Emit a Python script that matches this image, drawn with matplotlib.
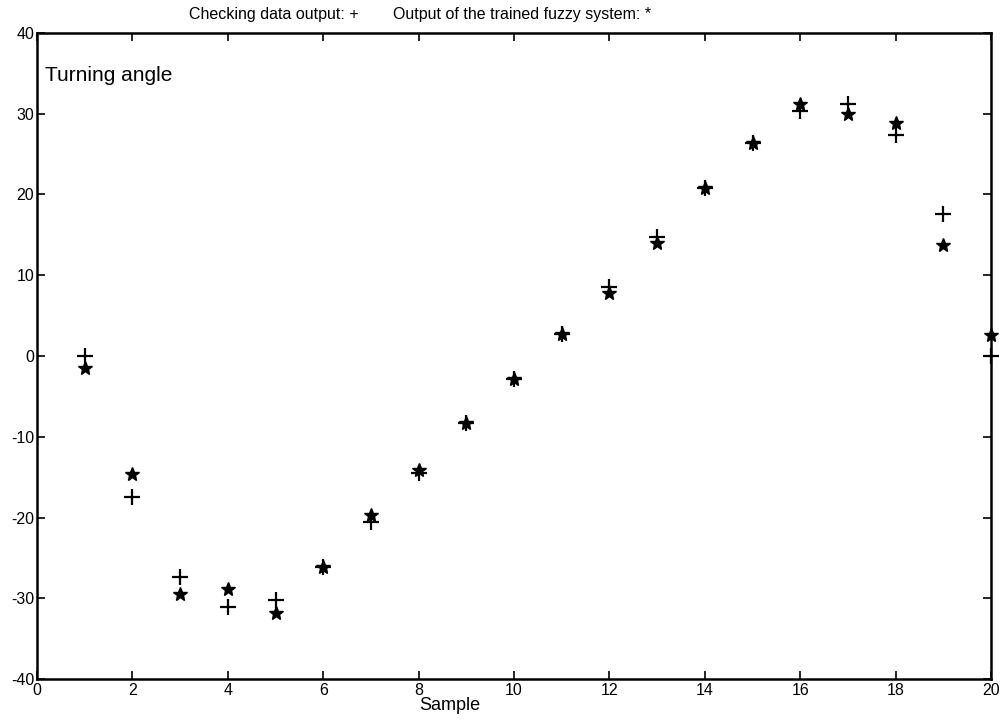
import matplotlib
matplotlib.use("Agg")
import matplotlib.pyplot as plt
import numpy as np

plt.rcParams['font.family'] = ['Liberation Sans', 'DejaVu Sans']

samples = list(range(1, 21))
checking_output = [0, -17.5, -27.4, -31.1, -30.2, -26.1, -20.5, -14.5, -8.3, -2.8,
                   2.7, 8.5, 14.7, 20.8, 26.4, 30.3, 31.2, 27.4, 17.6, 0]
fuzzy_output = [-1.5, -14.6, -29.5, -28.9, -31.8, -26.1, -19.7, -14.1, -8.3, -2.8,
                2.7, 7.8, 14.0, 20.8, 26.4, 31.2, 30.0, 28.9, 13.7, 2.6]
x_ticks = list(range(0, 21, 2))
y_ticks = list(range(-40, 41, 10))

fig = plt.figure(figsize=(10.06, 7.21), dpi=100)
ax = fig.add_axes([37/1006, 1-679/721, (991-37)/1006, (679-33)/721])

ax.plot(samples, checking_output, linestyle='none', marker='+', markersize=11,
        markeredgewidth=1.6, color='black', clip_on=False)
ax.plot(samples, fuzzy_output, linestyle='none', marker='*', markersize=10,
        markeredgewidth=1.0, color='black', clip_on=False)

ax.set_xlim(0, 20)
ax.set_ylim(-40, 40)
ax.set_xticks(x_ticks)
ax.set_yticks(y_ticks)
ax.set_xticklabels([str(v) for v in x_ticks], fontsize=11.5)
ax.set_yticklabels([str(v) for v in y_ticks], fontsize=11.5)
ax.tick_params(direction='in', top=True, right=True, length=6, width=1.2, pad=3)
ax.tick_params(axis='y', pad=2)
for s in ax.spines.values():
    s.set_linewidth(1.8)

ax.text(0.17, 34.7, 'Turning angle', fontsize=15, ha='left', va='center')
fig.text(450/1006, 1-705/721, 'Sample', fontsize=13, ha='center', va='center')
fig.text(189/1006, 1-15/721, 'Checking data output: +', fontsize=11.5, ha='left', va='center')
fig.text(393/1006, 1-15/721, 'Output of the trained fuzzy system: *', fontsize=11.5, ha='left', va='center')

fig.savefig('out.png', dpi=100)
